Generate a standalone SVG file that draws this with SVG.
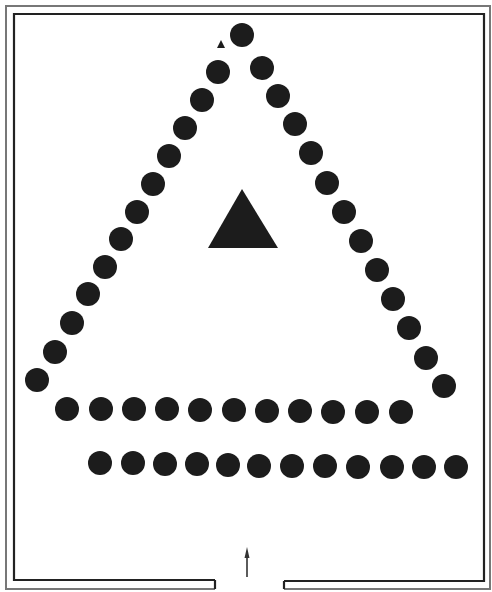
<svg xmlns="http://www.w3.org/2000/svg" width="492" height="592" viewBox="0 0 492 592">
<style>
.wo{fill:none;stroke:#777;stroke-width:2}
.wi{fill:none;stroke:#222;stroke-width:2.2}
.d{fill:#1c1c1c}
</style>
<rect width="492" height="592" fill="#fff"/>
<g id="walls">
<path class="wo" d="M215,589 H6 V6 H490 V589 H284"/>
<path class="wi" d="M215,580 H14 V14 H484 V581 H284"/>
<path class="wi" d="M215,580 V589 M284,581 V589"/>
</g>
<g id="arrow" stroke="#333" fill="#333">
<line x1="247" y1="556" x2="247" y2="577" stroke-width="1.6"/>
<polygon points="247,547 244.5,558 249.5,558" stroke="none"/>
</g>
<g id="centre-triangle"><polygon class="d" points="242,189 208,248 278,248"/></g>
<g id="small-triangle"><polygon class="d" points="221,40 217,48 225,48"/></g>
<g id="dots-left" class="d">
<circle cx="242" cy="35" r="12"/>
<circle cx="218" cy="72" r="12"/>
<circle cx="202" cy="100" r="12"/>
<circle cx="185" cy="128" r="12"/>
<circle cx="169" cy="156" r="12"/>
<circle cx="153" cy="184" r="12"/>
<circle cx="137" cy="212" r="12"/>
<circle cx="121" cy="239" r="12"/>
<circle cx="105" cy="267" r="12"/>
<circle cx="88" cy="294" r="12"/>
<circle cx="72" cy="323" r="12"/>
<circle cx="55" cy="352" r="12"/>
<circle cx="37" cy="380" r="12"/>
</g>
<g id="dots-right" class="d">
<circle cx="262" cy="68" r="12"/>
<circle cx="278" cy="96" r="12"/>
<circle cx="295" cy="124" r="12"/>
<circle cx="311" cy="153" r="12"/>
<circle cx="327" cy="183" r="12"/>
<circle cx="344" cy="212" r="12"/>
<circle cx="361" cy="241" r="12"/>
<circle cx="377" cy="270" r="12"/>
<circle cx="393" cy="299" r="12"/>
<circle cx="409" cy="328" r="12"/>
<circle cx="426" cy="358" r="12"/>
<circle cx="444" cy="386" r="12"/>
</g>
<g id="row-1" class="d">
<circle cx="67" cy="409" r="12"/>
<circle cx="101" cy="409" r="12"/>
<circle cx="134" cy="409" r="12"/>
<circle cx="167" cy="409" r="12"/>
<circle cx="200" cy="410" r="12"/>
<circle cx="234" cy="410" r="12"/>
<circle cx="267" cy="411" r="12"/>
<circle cx="300" cy="411" r="12"/>
<circle cx="333" cy="412" r="12"/>
<circle cx="367" cy="412" r="12"/>
<circle cx="401" cy="412" r="12"/>
</g>
<g id="row-2" class="d">
<circle cx="100" cy="463" r="12"/>
<circle cx="133" cy="463" r="12"/>
<circle cx="165" cy="464" r="12"/>
<circle cx="197" cy="464" r="12"/>
<circle cx="228" cy="465" r="12"/>
<circle cx="259" cy="466" r="12"/>
<circle cx="292" cy="466" r="12"/>
<circle cx="325" cy="466" r="12"/>
<circle cx="358" cy="467" r="12"/>
<circle cx="392" cy="467" r="12"/>
<circle cx="424" cy="467" r="12"/>
<circle cx="456" cy="467" r="12"/>
</g>
</svg>
